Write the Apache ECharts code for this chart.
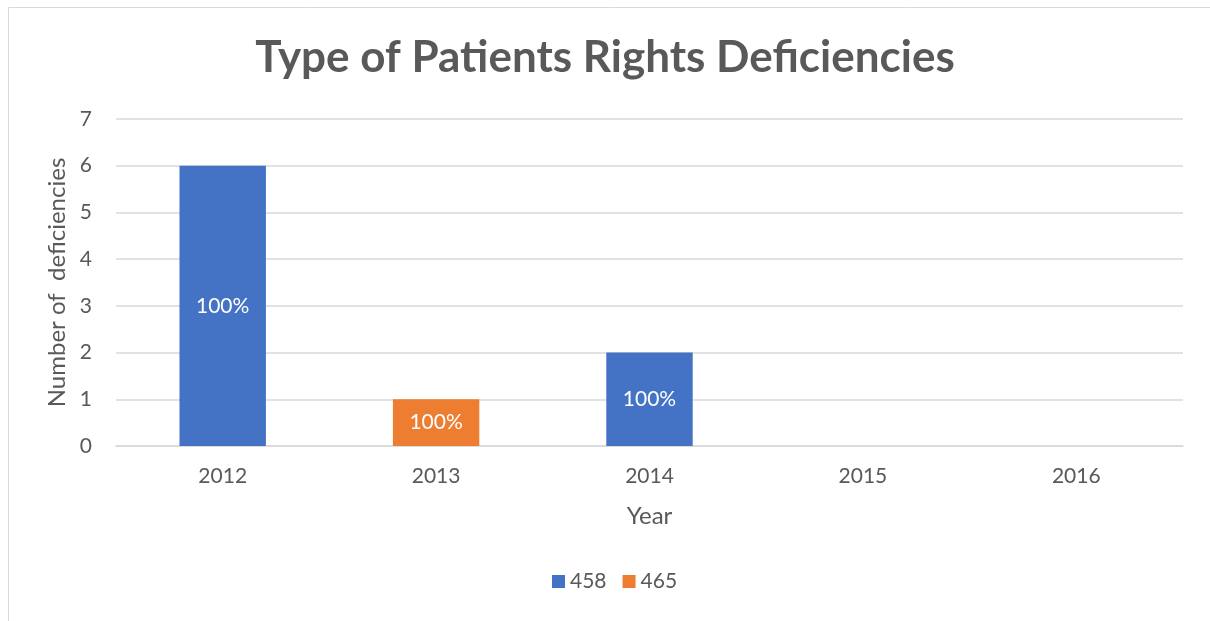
<!DOCTYPE html>
<html>
<head>
<meta charset="utf-8">
<script src="https://cdn.jsdelivr.net/npm/echarts@6/dist/echarts.min.js"></script>
<style>
html,body{margin:0;padding:0;background:#fff;}
#main{width:1210px;height:621px;}
</style>
</head>
<body>
<div id="main"></div>
<script>
// 数据
var years = ['2012', '2013', '2014', '2015', '2016'];
var s458 = [6, null, 2, null, null];
var s465 = [null, 1, null, null, null];
var seriesNames = ['458', '465'];
var totals = years.map(function(y, i){ return (s458[i] || 0) + (s465[i] || 0); });

var fontFam = 'Lato, "Open Sans", sans-serif';
var grey = '#595959';

// 百分比标签
function pctLabel(p){
	if (p.value == null || !totals[p.dataIndex]) return '';
	return Math.round(p.value / totals[p.dataIndex] * 100) + '%';
}

var myChart = echarts.init(document.getElementById('main'));
var option = {
	backgroundColor: '#fff',
	animation: false,
	textStyle: { fontFamily: fontFam },
	graphic: [{
		type: 'rect',
		shape: { x: 8.5, y: 7.5, width: 1210, height: 630 },
		style: { fill: 'none', stroke: '#d9d9d9', lineWidth: 1 },
		silent: true
	}],
	title: {
		text: 'Type of Patients Rights Deficiencies',
		left: 'center',
		top: 31,
		textStyle: { fontFamily: fontFam, fontSize: 44, fontWeight: 'bold', color: grey }
	},
	legend: {
		data: seriesNames,
		bottom: 24,
		left: 547,
		icon: 'rect',
		itemWidth: 13,
		itemHeight: 13,
		itemGap: 16,
		textStyle: { fontFamily: fontFam, fontSize: 21, color: grey }
	},
	grid: { left: 116, right: 27, top: 119, bottom: 175, containLabel: false },
	xAxis: {
		type: 'category',
		data: years,
		name: 'Year',
		nameLocation: 'middle',
		nameGap: 58,
		nameTextStyle: { fontSize: 24, color: grey },
		axisLine: { lineStyle: { color: '#d9d9d9', width: 1.5 } },
		axisTick: { show: false },
		axisLabel: { fontSize: 21, color: grey, margin: 20 }
	},
	yAxis: {
		type: 'value',
		min: 0,
		max: 7,
		interval: 1,
		name: 'Number of  deficiencies',
		nameLocation: 'middle',
		nameGap: 42,
		nameRotate: 90,
		nameTextStyle: { fontSize: 24, color: grey },
		axisLine: { show: false },
		axisTick: { show: false },
		axisLabel: { fontSize: 21, color: grey, margin: 24 },
		splitLine: { lineStyle: { color: '#d9d9d9', width: 1.5 } }
	},
	series: [{
		name: seriesNames[0],
		type: 'bar',
		stack: 'total',
		data: s458,
		barWidth: '40.5%',
		itemStyle: { color: '#4472c4' },
		label: { show: true, position: 'inside', color: '#fff', fontSize: 21, formatter: pctLabel }
	}, {
		name: seriesNames[1],
		type: 'bar',
		stack: 'total',
		data: s465,
		barWidth: '40.5%',
		itemStyle: { color: '#ed7d31' },
		label: { show: true, position: 'inside', color: '#fff', fontSize: 21, formatter: pctLabel }
	}]
};
myChart.setOption(option);
</script>
</body>
</html>
